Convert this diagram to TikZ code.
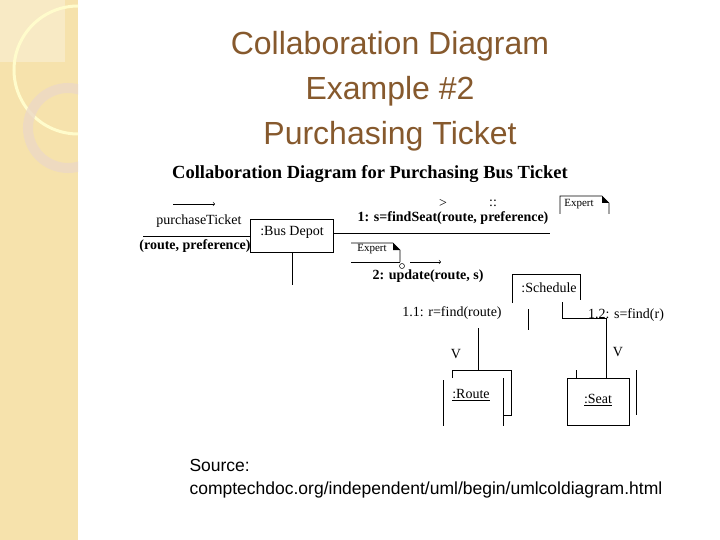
\documentclass[tikz,border=0pt]{standalone}
\usepackage{fontspec}
\setmainfont{Liberation Serif}
\newfontfamily\arialf{Liberation Sans}
\begin{document}
\begin{tikzpicture}[x=1pt,y=-1pt,
  ln/.style={line width=0.9pt,black},
  tx/.style={font=\fontsize{14}{15}\selectfont,inner sep=0pt},
  bt/.style={font=\bfseries\fontsize{14}{15}\selectfont,inner sep=0pt},
  bx/.style={draw,line width=0.9pt,inner sep=0pt}]
\useasboundingbox (0,0) rectangle (720,540);
\fill[white] (0,0) rectangle (720,540);
% left panel
\fill[orange!35!yellow!25!white!85!brown] (0,0) rectangle (78,540);
\begin{scope}
\clip (0,0) rectangle (78,540);
\fill[white,opacity=0.3] (0,0) rectangle (65,62);
\draw[white!80!yellow,line width=3pt] (78,70) circle (64);
\draw[brown!30!white,line width=10pt,opacity=0.8] (68,128) circle (40);
\end{scope}
% title
\node[font=\arialf\fontsize{32}{45}\selectfont,text=brown!70!black,align=center] (title) at (390,91)
 {Collaboration Diagram\\Example \#2\\Purchasing Ticket};
\node[font=\bfseries\fontsize{18.5}{19}\selectfont] (hdr) at (370,174) {Collaboration Diagram for Purchasing Bus Ticket};
% Bus depot
\node[bx,minimum width=83,minimum height=33] (bd) at (291.5,235.5) {};
\node[tx] (bdt) at (292,232) {:Bus Depot};
\coordinate (l0) at (143,236);
\draw[ln] (l0) -- (bd.west|-l0);
\coordinate (a1) at (173,204); \coordinate (a2) at (215,204);
\draw[line width=0.6pt,->] (a1) -- (a2);
\node[tx] (pt) at (199,221) {purchaseTicket};
\node[bt] (rp) at (195,246) {(route, preference)};
\coordinate (r1) at (550,233);
\draw[ln] (bd.east|-r1) -- (r1);
\coordinate (v1) at (292,285);
\draw[ln] (bd.south-|v1) -- (v1);
\node[tx] (gt) at (443,203) {>};
\node[tx] (cc) at (493,203) {::};
\node[bt] (m1) at (453,218) {1: s=findSeat(route, preference)};
% Expert notes
\node[tx,font=\fontsize{11}{12}\selectfont] (ex1) at (579,204) {Expert};
\draw[line width=0.6pt] (560,214) -- (560,196) -- (602,196) -- (609,203) -- (609,214);
\fill (602,196) -- (609,203) -- (602,203) -- cycle;
\node[tx,font=\fontsize{11}{12}\selectfont] (ex2) at (372,249) {Expert};
\draw[line width=0.6pt] (351,243) -- (393,243) -- (400,250) -- (400,262);
\fill (393,243) -- (400,250) -- (393,250) -- cycle;
\draw[line width=0.6pt] (351,262) -- (400,262);
\node[draw,circle,line width=0.5pt,minimum size=5pt,inner sep=0pt] (oc) at (402,266) {};
\coordinate (b1) at (410,262); \coordinate (b2) at (441,262);
\draw[line width=0.6pt,->] (b1) -- (b2);
\node[bt] (m2) at (428,276) {2: update(route, s)};
% Schedule
\draw[ln] (512,303) -- (512,274) -- (580,274) -- (580,300);
\node[tx] (sch) at (549,288) {:Schedule};
\node[tx] (m11) at (452,313) {1.1: r=find(route)};
\node[tx] (m12) at (626,315) {1.2: s=find(r)};
\draw[ln] (528,309) -- (528,330);
\draw[ln] (562,302) -- (562,318) -- (606,318) -- (606,378);
\node[tx] (va) at (456,354) {V};
\node[tx] (vb) at (618,352) {V};
% Route
\draw[ln] (478,328) -- (478,370);
\draw[ln] (452,378) -- (452,370) -- (511,370) -- (511,415) -- (503,415);
\draw[ln] (503,378) -- (503,426);
\draw[ln] (443,380) -- (443,426);
\node[tx] (rt) at (471,395) {\underline{:Route}};
% Seat
\node[bx,minimum width=62,minimum height=47] (seat) at (598,401.5) {};
\node[tx] (st) at (598,400) {\underline{:Seat}};
\draw[ln] (576,370) -- (576,378);
\draw[ln] (636,370) -- (636,415);
% source
\node[anchor=west,font=\arialf\fontsize{17.5}{23}\selectfont,align=left] (src) at (186,479)
 {Source:\\comptechdoc.org/independent/uml/begin/umlcoldiagram.html};
\end{tikzpicture}
\end{document}
